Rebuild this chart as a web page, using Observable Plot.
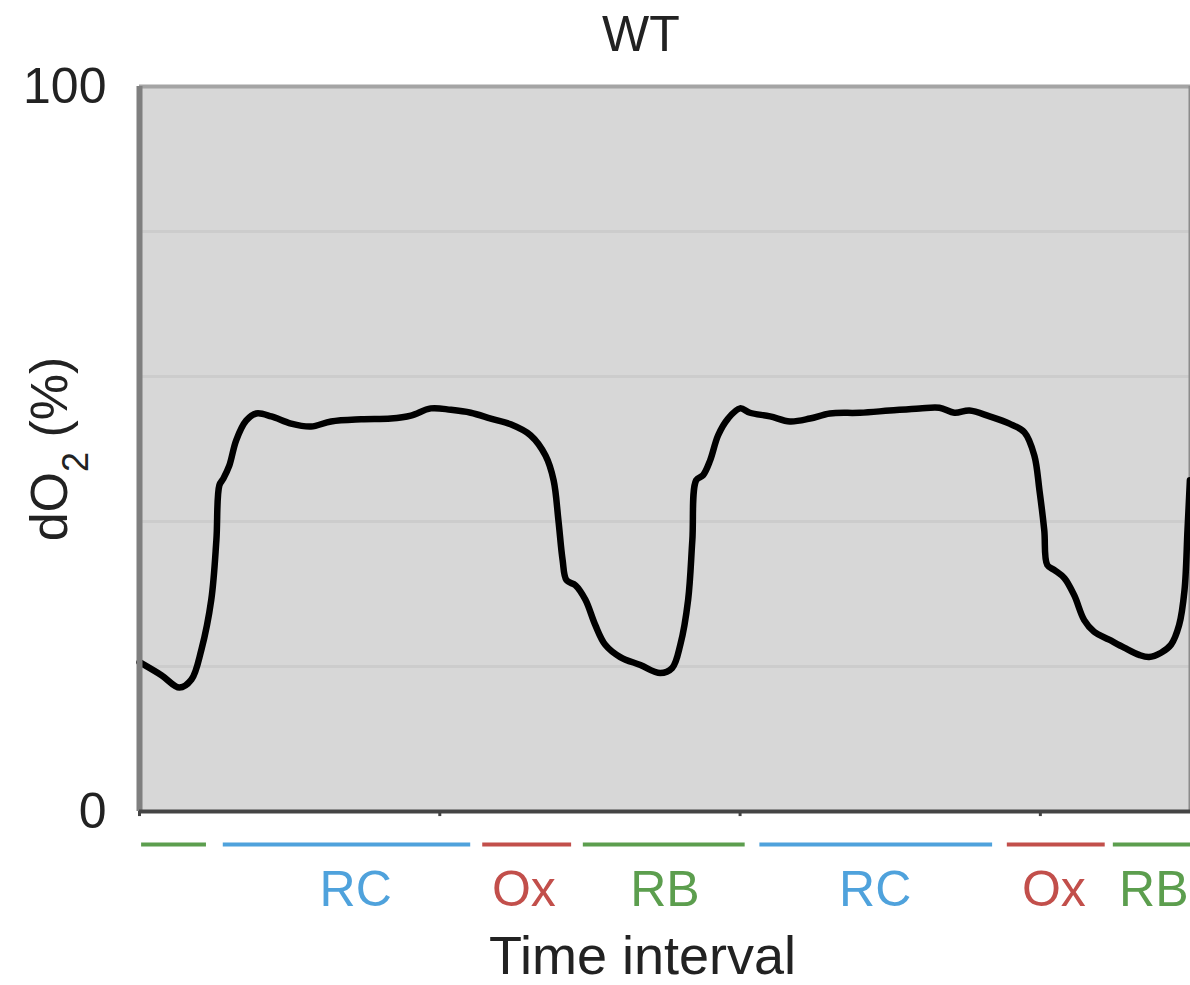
<!DOCTYPE html>
<html>
<head>
<meta charset="utf-8">
<script src="https://cdn.jsdelivr.net/npm/d3@7"></script>
<script src="https://cdn.jsdelivr.net/npm/@observablehq/plot@0.6"></script>
<style>
  html, body { margin: 0; padding: 0; background: #fff; }
  #chart svg { display: block; font-family: "Liberation Sans", Arial, sans-serif; }
</style>
</head>
<body>
<div id="chart"></div>
<script>
// ---- data ----
const title = "WT";
const yLabel = "dO2 (%)";
const xLabel = "Time interval";

const times = [0, 7.3, 13.3, 17.3, 20.6, 23.9, 25.6, 26.6, 27.9, 29.9, 32.2, 35.5, 38.9, 43.9, 50.5, 57.1, 63.8, 73.8, 83.7, 90.4, 97.0, 103.7, 110.3, 117.0, 123.6, 130.2, 135.2, 137.9, 139.5, 140.9, 142.2, 145.2, 148.5, 151.8, 155.1, 160.1, 166.8, 173.4, 177.4, 180.1, 182.7, 184.1, 185.4, 187.7, 190.0, 192.7, 196.0, 200.0, 203.3, 210.0, 216.6, 223.3, 229.9, 239.9, 249.8, 259.8, 266.4, 271.4, 276.4, 283.1, 289.7, 294.7, 298.0, 299.7, 301.3, 302.3, 304.7, 308.0, 311.3, 314.6, 317.9, 322.9, 327.9, 332.9, 336.2, 340.2, 343.5, 346.2, 348.0, 349.0, 349.8];
const dO2 = [20.6, 18.8, 17.1, 18.2, 22.3, 29.2, 37.4, 45.0, 45.9, 47.7, 51.2, 53.9, 54.9, 54.5, 53.5, 53.1, 53.8, 54.1, 54.2, 54.6, 55.6, 55.4, 55.0, 54.2, 53.4, 51.9, 49.1, 45.7, 40.2, 34.7, 31.9, 31.2, 29.2, 25.7, 23.0, 21.3, 20.2, 19.1, 19.8, 23.0, 29.2, 37.4, 45.7, 46.4, 48.4, 51.9, 54.2, 55.6, 55.0, 54.5, 53.8, 54.2, 54.9, 55.0, 55.3, 55.6, 55.7, 55.0, 55.3, 54.5, 53.5, 52.3, 49.1, 44.3, 38.8, 34.0, 33.3, 32.2, 29.8, 26.4, 24.8, 23.7, 22.6, 21.6, 21.3, 21.9, 23.0, 25.7, 30.5, 38.8, 45.7];

const intervalNames = ["RB", "RC", "Ox", "RB", "RC", "Ox", "RB"];
const intervalStart = [0.7, 27.9, 114.3, 147.8, 206.6, 289.0, 324.3];
const intervalEnd   = [22.3, 110.3, 143.9, 201.7, 284.1, 321.6, 350];
const labelNames = ["RC", "Ox", "RB", "RC", "Ox", "RB"];
const labelPos   = [72, 128, 175, 245, 304.5, 350];

const yTicks = [0, 100];
const yGrid = [20, 40, 60, 80];
const xTicks = [0, 100, 200, 300];

const colorOf = {RC: "#4fa2dc", Ox: "#c24f4b", RB: "#5c9e4e"};

// ---- tables ----
const series = times.map((t, i) => ({t, v: dO2[i]}));
const intervals = intervalNames.map((n, i) => ({name: n, start: intervalStart[i], end: intervalEnd[i]}));
const labels = labelNames.map((n, i) => ({name: n, x: labelPos[i], last: i === labelNames.length - 1}));

const W = 1190, H = 985;
const fs = 50;

const plot = Plot.plot({
  width: W,
  height: H,
  marginTop: 86,
  marginBottom: 174,
  marginLeft: 139,
  marginRight: 0,
  x: {domain: [0, 350], axis: null},
  y: {domain: [0, 100], axis: null},
  style: {fontFamily: '"Liberation Sans", Arial, sans-serif', background: "#fff"},
  marks: [
    Plot.frame({fill: "#d7d7d7", stroke: null}),
    Plot.ruleY(yGrid, {stroke: "#cccccc", strokeWidth: 3}),
    Plot.ruleY([100], {stroke: "#a4a4a4", strokeWidth: 4}),
    Plot.ruleX([350], {stroke: "#8c8c8c", strokeWidth: 4}),
    Plot.line(series, {x: "t", y: "v", stroke: "#000", strokeWidth: 6.5, curve: "catmull-rom", strokeLinejoin: "round"}),
    Plot.ruleX([0], {stroke: "#7f7f7f", strokeWidth: 6}),
    Plot.ruleY([0], {stroke: "#444444", strokeWidth: 4}),
    Plot.ruleX(xTicks, {y1: 0, y2: -0.7, stroke: "#444", strokeWidth: 3}),
    // y tick labels
    Plot.text(yTicks, {x: 0, y: d => d, text: d => String(d), textAnchor: "end", dx: -33, fontSize: fs, fill: "#222"}),
    // interval bars below axis
    Plot.ruleY(intervals, {y: 0, x1: "start", x2: "end", stroke: d => colorOf[d.name], strokeWidth: 4, dy: 33}),
    // interval labels
    Plot.text(labels.filter(d => !d.last), {x: "x", y: 0, text: "name", fill: d => colorOf[d.name], fontSize: fs, dy: 78}),
    Plot.text(labels.filter(d => d.last), {x: "x", y: 0, text: "name", fill: d => colorOf[d.name], fontSize: fs, dy: 78, textAnchor: "end", dx: -2}),
    // x axis label
    Plot.text([xLabel], {x: 167.5, y: 0, text: d => d, fontSize: 54, fill: "#222", dy: 145}),
    // title
    Plot.text([title], {x: 167, y: 100, text: d => d, fontSize: fs, fill: "#222", dy: -52}),
    // y axis label
    Plot.text([yLabel], {x: 0, y: 50, text: d => d, fontSize: 52, fill: "#222", rotate: -90, dx: -89, className: "ylab"})
  ]
});

// subscript for dO2
d3.select(plot).selectAll(".ylab text").each(function() {
  const t = d3.select(this);
  t.text(null);
  t.append("tspan").text("dO");
  t.append("tspan").attr("baseline-shift", "sub").attr("font-size", 36).text("2");
  t.append("tspan").text(" (%)");
});

document.getElementById("chart").appendChild(plot);
</script>
</body>
</html>
